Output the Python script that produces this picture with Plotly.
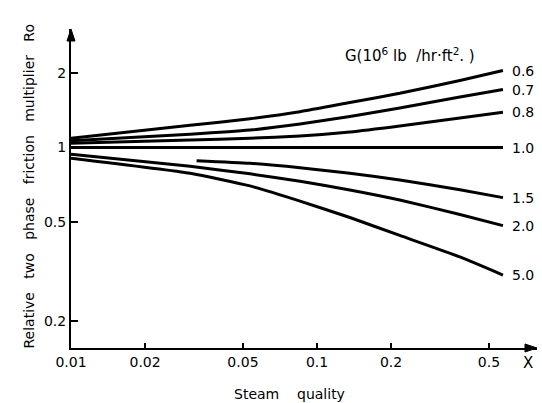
import math
import plotly.graph_objects as go

# ---- data ----
x_main = [0.01, 0.0305, 0.0534, 0.0853, 0.136, 0.217, 0.381, 0.57]
x_g15 = [0.0324, 0.0534, 0.0853, 0.136, 0.217, 0.381, 0.57]

g06 = [1.089, 1.229, 1.306, 1.394, 1.518, 1.654, 1.863, 2.044]
g07 = [1.065, 1.131, 1.176, 1.244, 1.334, 1.443, 1.598, 1.713]
g08 = [1.040, 1.072, 1.090, 1.113, 1.155, 1.221, 1.315, 1.387]
g10 = [1.0, 1.0, 1.0, 1.0, 1.0, 1.0, 1.0, 1.0]
g15 = [0.885, 0.864, 0.829, 0.787, 0.740, 0.676, 0.628]
g20 = [0.939, 0.840, 0.783, 0.731, 0.674, 0.614, 0.537, 0.484]
g50 = [0.905, 0.787, 0.700, 0.608, 0.522, 0.442, 0.362, 0.306]

series_labels = ["0.6", "0.7", "0.8", "1.0", "1.5", "2.0", "5.0"]
series_x = [x_main, x_main, x_main, x_main, x_g15, x_main, x_main]
series_y = [g06, g07, g08, g10, g15, g20, g50]

x_tickvals = [0.01, 0.02, 0.05, 0.1, 0.2, 0.5]
x_ticktext = ["0.01", "0.02", "0.05", "0.1", "0.2", "0.5"]
y_tickvals = [0.2, 0.5, 1, 2]
y_ticktext = ["0.2", "0.5", "1", "2"]

FONT = "DejaVu Sans"
PW, PH = 466, 319  # plot area size in px

fig = go.Figure()
for lab, xs, ys in zip(series_labels, series_x, series_y):
    fig.add_trace(go.Scatter(
        x=xs, y=ys, mode="lines", name=lab,
        line=dict(color="black", width=3, shape="spline", smoothing=0.5),
        showlegend=False, hoverinfo="skip"))
    fig.add_annotation(x=math.log10(xs[-1]), y=math.log10(ys[-1]), xref="x", yref="y",
                       text=lab, showarrow=False, xanchor="left", yanchor="middle",
                       xshift=7, font=dict(size=14, color="black", family=FONT))

fig.update_layout(
    width=542, height=403,
    margin=dict(l=71, r=5, t=29, b=55),
    paper_bgcolor="white", plot_bgcolor="white",
    font=dict(family=FONT, size=14, color="black"),
    xaxis=dict(type="log", range=[-2, -2 + 466 / 246],
               tickvals=x_tickvals, ticktext=x_ticktext,
               ticks="inside", ticklen=5, tickwidth=2, tickcolor="black",
               showline=True, linecolor="black", linewidth=2,
               showgrid=False, zeroline=False),
    yaxis=dict(type="log", range=[-(348 - 147.5) / 248, (147.5 - 29) / 248],
               tickvals=y_tickvals, ticktext=y_ticktext,
               ticks="inside", ticklen=7, tickwidth=2, tickcolor="black",
               showline=True, linecolor="black", linewidth=2,
               showgrid=False, zeroline=False),
)

# axis arrowheads (filled triangles, paper coordinates)
ax_len, ax_half = 12 / PW, 4 / PH
fig.add_shape(type="path", xref="paper", yref="paper",
              path=f"M 1 0 L {1 - ax_len} {ax_half} L {1 - ax_len} {-ax_half} Z",
              fillcolor="black", line=dict(color="black", width=1))
ay_len, ay_half = 12 / PH, 4 / PW
fig.add_shape(type="path", xref="paper", yref="paper",
              path=f"M 0 1 L {ay_half} {1 - ay_len} L {-ay_half} {1 - ay_len} Z",
              fillcolor="black", line=dict(color="black", width=1))

sp = "\u00a0\u00a0 "
fig.add_annotation(x=(28 - 71) / PW, y=(348 - 186.5) / PH, xref="paper", yref="paper",
                   text="Relative" + sp + "two" + sp + "phase" + sp + "friction" + sp + "multiplier" + sp + "Ro",
                   textangle=-90, showarrow=False, xanchor="center", yanchor="middle",
                   font=dict(size=14, family=FONT))
fig.add_annotation(x=(289 - 71) / PW, y=-(394 - 348) / PH, xref="paper", yref="paper",
                   text="Steam\u00a0\u00a0\u00a0 quality", showarrow=False,
                   xanchor="center", yanchor="middle", font=dict(size=14, family=FONT))
fig.add_annotation(x=(528 - 71) / PW, y=-(363 - 348) / PH, xref="paper", yref="paper",
                   text="X", showarrow=False, xanchor="center", yanchor="middle",
                   font=dict(size=15, family=FONT))
fig.add_annotation(x=(410 - 71) / PW, y=(348 - 55) / PH, xref="paper", yref="paper",
                   text="G(10<sup>6</sup> lb\u00a0\u00a0/hr·ft<sup>2</sup>.\u00a0)", showarrow=False,
                   xanchor="center", yanchor="middle", font=dict(size=15, family=FONT))

fig.write_html("out.html")
